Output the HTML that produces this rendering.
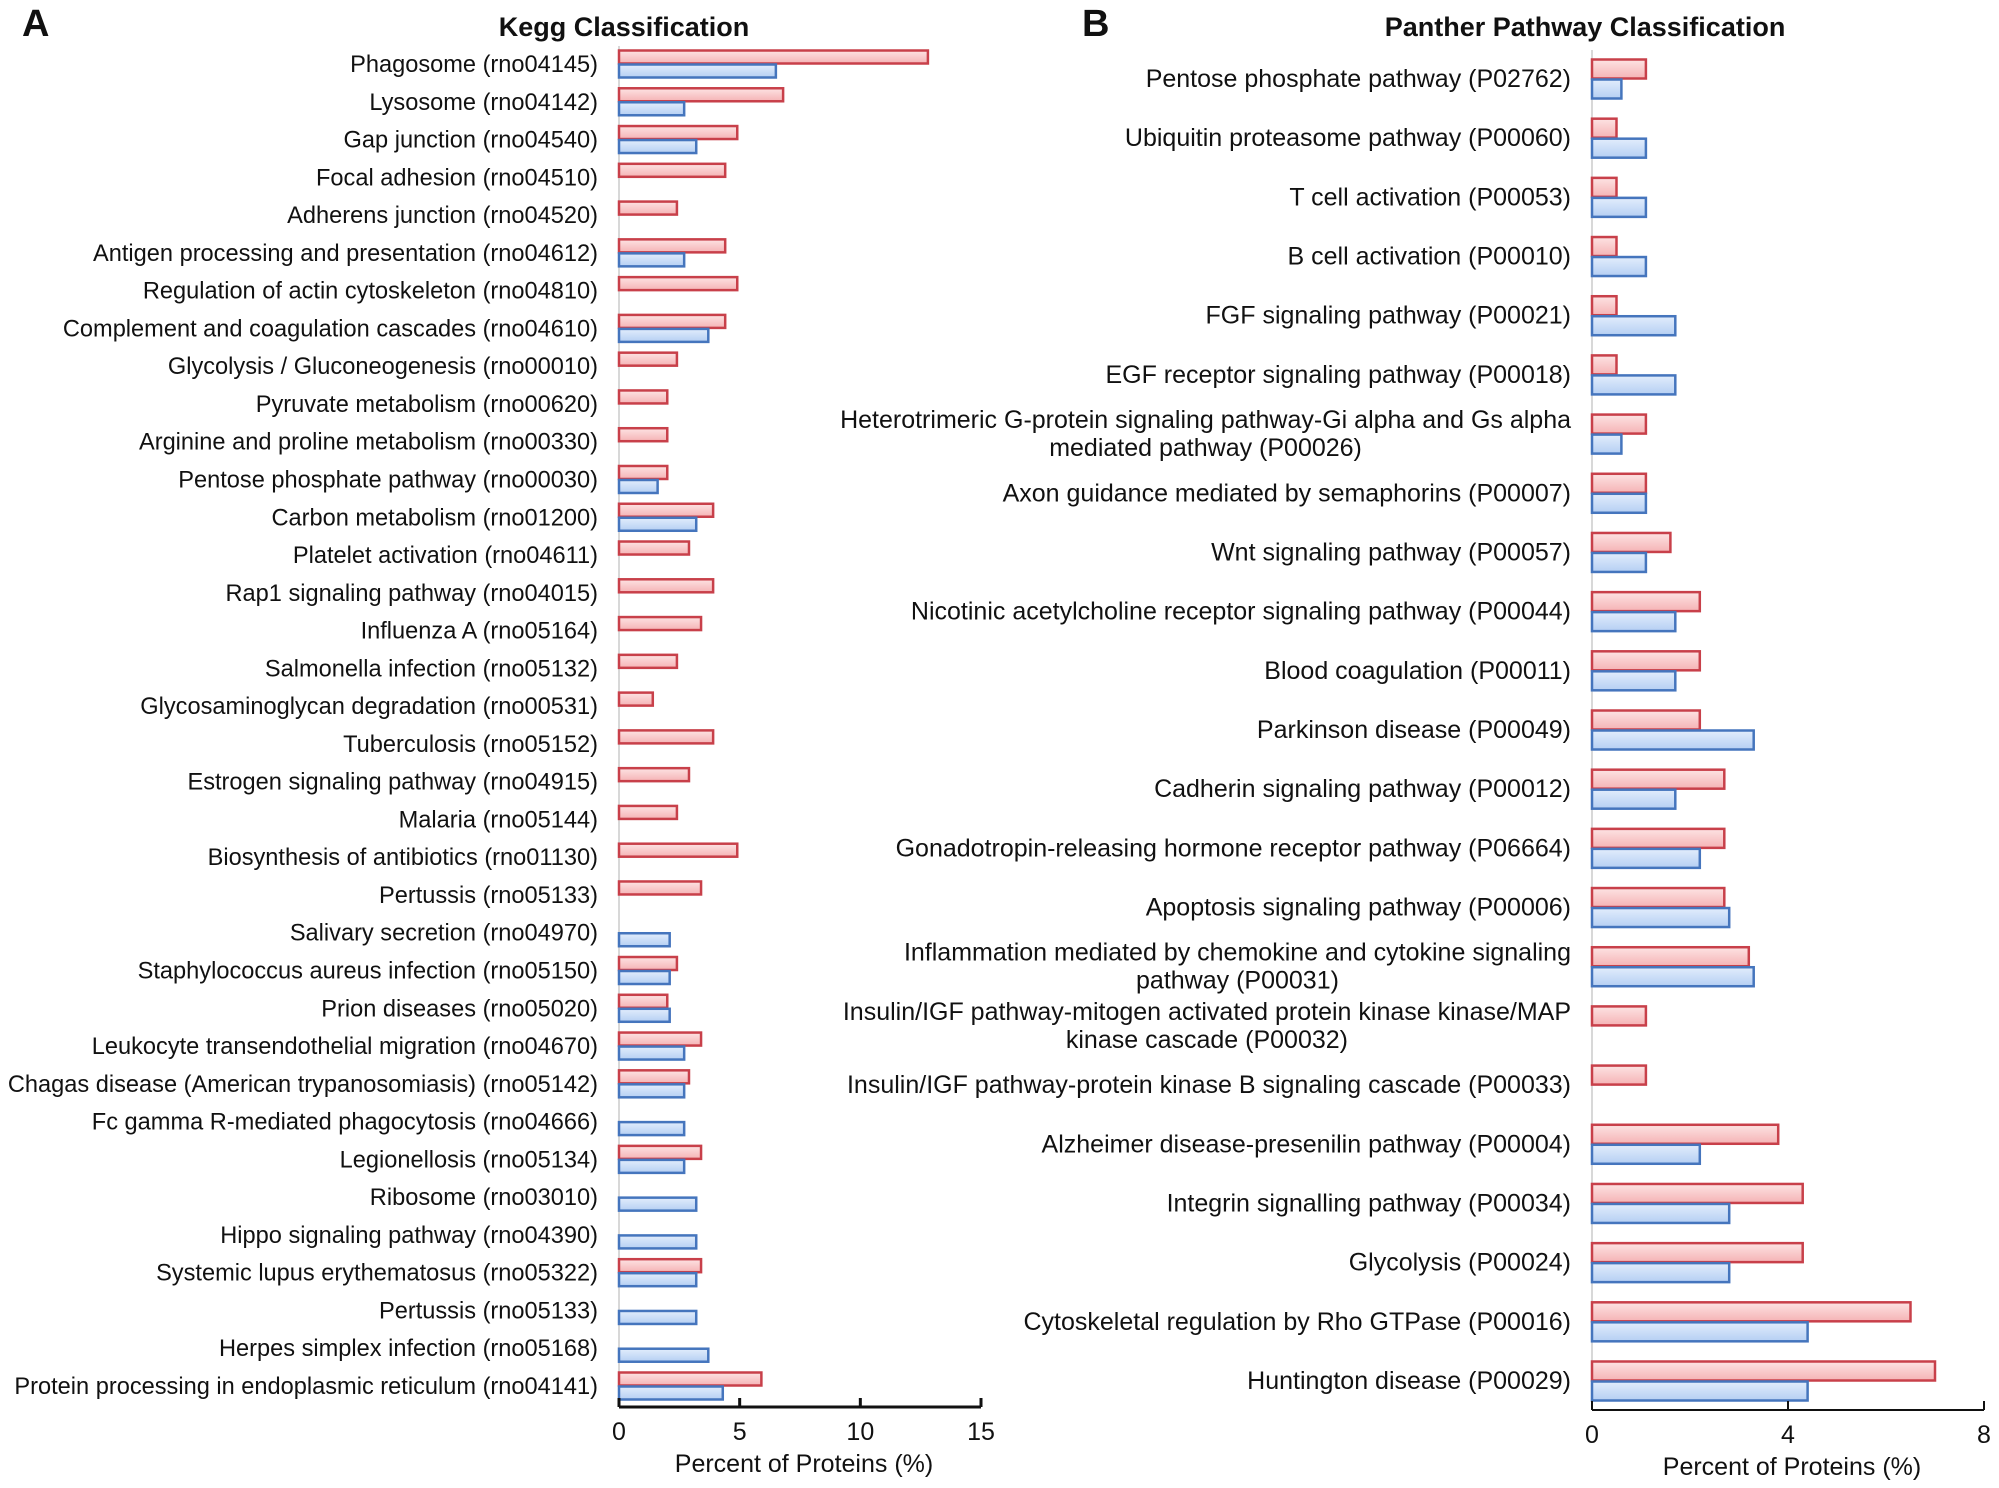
<!DOCTYPE html>
<html><head><meta charset="utf-8"><style>
html,body{margin:0;padding:0;background:#fff}
svg{display:block}
text{font-family:"Liberation Sans",Arial,sans-serif;fill:#111}
</style></head><body>
<svg id="c" width="1999" height="1488" viewBox="0 0 1999 1488" xmlns="http://www.w3.org/2000/svg">
<defs>
<linearGradient id="gr" x1="0" y1="0" x2="0" y2="1"><stop offset="0" stop-color="#fde3e3"/><stop offset="1" stop-color="#f5b3b5"/></linearGradient>
<linearGradient id="gb" x1="0" y1="0" x2="0" y2="1"><stop offset="0" stop-color="#e2edfc"/><stop offset="1" stop-color="#b5cff3"/></linearGradient>
</defs>
<text x="22" y="36" font-size="38" font-weight="bold">A</text>
<text x="1082" y="36" font-size="38" font-weight="bold">B</text>
<text x="624" y="36" font-size="27" font-weight="bold" text-anchor="middle">Kegg Classification</text>
<text x="1585" y="36" font-size="27" font-weight="bold" text-anchor="middle">Panther Pathway Classification</text>
<g id="left"></g><g id="right"></g>
</svg>
<script>
const keggCategories=["Phagosome (rno04145)","Lysosome (rno04142)","Gap junction (rno04540)","Focal adhesion (rno04510)","Adherens junction (rno04520)","Antigen processing and presentation (rno04612)","Regulation of actin cytoskeleton (rno04810)","Complement and coagulation cascades (rno04610)","Glycolysis / Gluconeogenesis (rno00010)","Pyruvate metabolism (rno00620)","Arginine and proline metabolism (rno00330)","Pentose phosphate pathway (rno00030)","Carbon metabolism (rno01200)","Platelet activation (rno04611)","Rap1 signaling pathway (rno04015)","Influenza A (rno05164)","Salmonella infection (rno05132)","Glycosaminoglycan degradation (rno00531)","Tuberculosis (rno05152)","Estrogen signaling pathway (rno04915)","Malaria (rno05144)","Biosynthesis of antibiotics (rno01130)","Pertussis (rno05133)","Salivary secretion (rno04970)","Staphylococcus aureus infection (rno05150)","Prion diseases (rno05020)","Leukocyte transendothelial migration (rno04670)","Chagas disease (American trypanosomiasis) (rno05142)","Fc gamma R-mediated phagocytosis (rno04666)","Legionellosis (rno05134)","Ribosome (rno03010)","Hippo signaling pathway (rno04390)","Systemic lupus erythematosus (rno05322)","Pertussis (rno05133)","Herpes simplex infection (rno05168)","Protein processing in endoplasmic reticulum (rno04141)"];
const keggRed=[12.8,6.8,4.9,4.4,2.4,4.4,4.9,4.4,2.4,2.0,2.0,2.0,3.9,2.9,3.9,3.4,2.4,1.4,3.9,2.9,2.4,4.9,3.4,0,2.4,2.0,3.4,2.9,0,3.4,0,0,3.4,0,0,5.9];
const keggBlue=[6.5,2.7,3.2,0,0,2.7,0,3.7,0,0,0,1.6,3.2,0,0,0,0,0,0,0,0,0,0,2.1,2.1,2.1,2.7,2.7,2.7,2.7,3.2,3.2,3.2,3.2,3.7,4.3];
const keggTicks=[0,5,10,15];
const pantherCategories=["Pentose phosphate pathway (P02762)","Ubiquitin proteasome pathway (P00060)","T cell activation (P00053)","B cell activation (P00010)","FGF signaling pathway (P00021)","EGF receptor signaling pathway (P00018)","Heterotrimeric G-protein signaling pathway-Gi alpha and Gs alpha\nmediated pathway (P00026)","Axon guidance mediated by semaphorins (P00007)","Wnt signaling pathway (P00057)","Nicotinic acetylcholine receptor signaling pathway (P00044)","Blood coagulation (P00011)","Parkinson disease (P00049)","Cadherin signaling pathway (P00012)","Gonadotropin-releasing hormone receptor pathway (P06664)","Apoptosis signaling pathway (P00006)","Inflammation mediated by chemokine and cytokine signaling\npathway (P00031)","Insulin/IGF pathway-mitogen activated protein kinase kinase/MAP\nkinase cascade (P00032)","Insulin/IGF pathway-protein kinase B signaling cascade (P00033)","Alzheimer disease-presenilin pathway (P00004)","Integrin signalling pathway (P00034)","Glycolysis (P00024)","Cytoskeletal regulation by Rho GTPase (P00016)","Huntington disease (P00029)"];
const pantherRed=[1.1,0.5,0.5,0.5,0.5,0.5,1.1,1.1,1.6,2.2,2.2,2.2,2.7,2.7,2.7,3.2,1.1,1.1,3.8,4.3,4.3,6.5,7.0];
const pantherBlue=[0.6,1.1,1.1,1.1,1.7,1.7,0.6,1.1,1.1,1.7,1.7,3.3,1.7,2.2,2.8,3.3,0,0,2.2,2.8,2.8,4.4,4.4];
const pantherTicks=[0,4,8];
const NS="http://www.w3.org/2000/svg";
function mk(tag,attrs,parent){const e=document.createElementNS(NS,tag);for(const k in attrs)e.setAttribute(k,attrs[k]);parent.appendChild(e);return e;}
function panel(g,cfg){
  const xs=v=>cfg.x0+(v-cfg.min)/(cfg.max-cfg.min)*(cfg.x1-cfg.x0);
  const ys=i=>cfg.yFirst+i*(cfg.yLast-cfg.yFirst)/(cfg.cats.length-1);
  const yl=mk('line',{x1:xs(0),x2:xs(0),y1:cfg.yTop,y2:cfg.axisY,stroke:'#d8d8d8','stroke-width':2},g);
  
  
  cfg.cats.forEach((c,i)=>{
    const cy=ys(i);
    [[cfg.red[i],cy-cfg.bh,'url(#gr)','#c8404a','red'],[cfg.blue[i],cy,'url(#gb)','#4575bd','blue']].forEach(b=>{
      if(b[0]<=0)return;
      const r=mk('rect',{x:xs(0),y:b[1]+0.5,width:xs(b[0])-xs(0),height:cfg.bh-1,fill:b[2],stroke:b[3],'stroke-width':2.5},g);
      
      
    });
    const lines=c.split('\n');
    const t=mk('text',{x:cfg.labelX,y:cy+8-(lines.length-1)*14,'font-size':cfg.fs,'text-anchor':'end','letter-spacing':cfg.ls},g);
    t.textContent=lines[0];
    
    
    if(lines.length>1){
      const w=t.getComputedTextLength();
      const t2=mk('text',{x:cfg.labelX-w/2,y:cy+8+14,'font-size':cfg.fs,'text-anchor':'middle','letter-spacing':cfg.ls},g);
      t2.textContent=lines[1];
      
      
    }
  });
  const ax=mk('line',{x1:xs(cfg.min),x2:xs(cfg.max),y1:cfg.axisY,y2:cfg.axisY,stroke:'#111','stroke-width':cfg.aw},g);
  
  
  cfg.ticks.forEach(v=>{
    const tk=mk('line',{x1:xs(v),x2:xs(v),y1:cfg.axisY,y2:cfg.axisY-9,stroke:'#111','stroke-width':cfg.aw},g);
    
    
    const tl=mk('text',{x:xs(v),y:cfg.axisY+33,'font-size':25,'text-anchor':'middle'},g);
    tl.textContent=v;
    
    
  });
  const at=mk('text',{x:(xs(cfg.min)+xs(cfg.max))/2+4,y:cfg.axisY+65,'font-size':25,'text-anchor':'middle'},g);
  at.textContent='Percent of Proteins (%)';
  
  
}
panel(document.getElementById('left'),{p:'kegg',cats:keggCategories,red:keggRed,blue:keggBlue,ticks:keggTicks,min:0,max:15,x0:619,x1:981,yFirst:64,yLast:1386,yTop:46,axisY:1407,bh:14,labelX:598,fs:23.6,ls:0,aw:3});
panel(document.getElementById('right'),{p:'panther',cats:pantherCategories,red:pantherRed,blue:pantherBlue,ticks:pantherTicks,min:0,max:8,x0:1592,x1:1984,yFirst:79,yLast:1381,yTop:50,axisY:1410,bh:20,labelX:1571,fs:25,ls:0,aw:2});
</script>
</body></html>
